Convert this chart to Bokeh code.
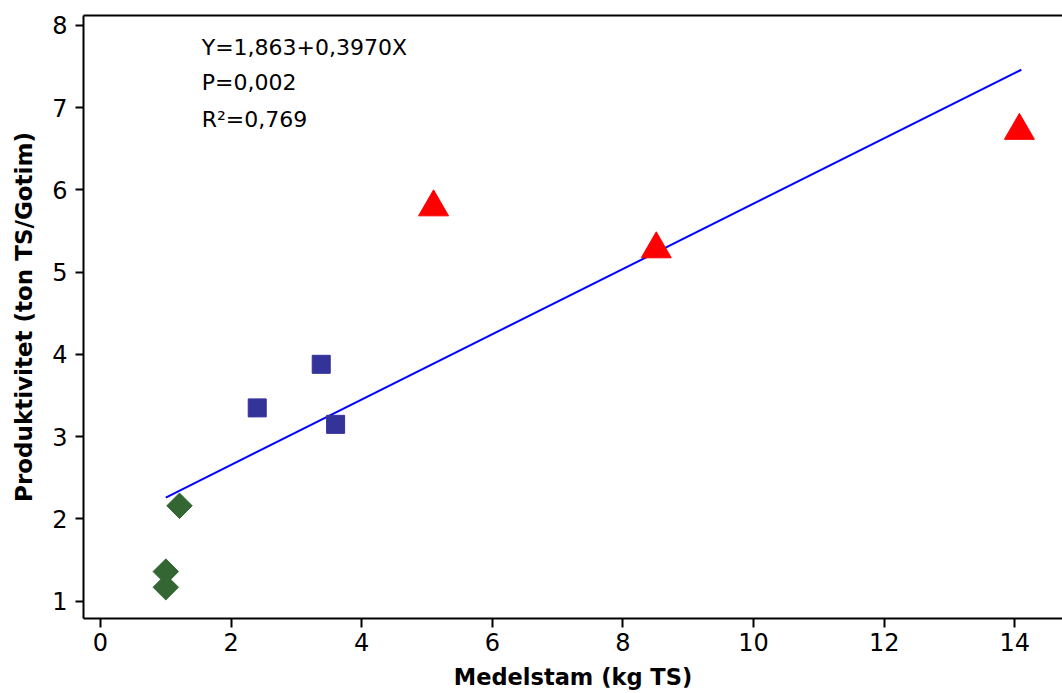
from bokeh.plotting import figure
from bokeh.models import Range1d, LinearAxis, Label, FixedTicker
from bokeh.embed import file_html
from bokeh.resources import INLINE

# ---- data ----
diamond_x = [1.0, 1.0, 1.21]
diamond_y = [1.17, 1.36, 2.16]
square_x = [2.40, 3.38, 3.60]
square_y = [3.35, 3.88, 3.15]
triangle_x = [5.10, 8.51, 14.07]
triangle_y = [5.79, 5.28, 6.72]

intercept = 1.863
slope = 0.3970
fit_x = [1.0, 14.1]
fit_y = [intercept + slope * v for v in fit_x]

annotation_lines = ["Y=1,863+0,3970X", "P=0,002", "R²=0,769"]
annotation_x = 1.55
annotation_y = [7.73, 7.31, 6.86]

x_ticks = [0, 2, 4, 6, 8, 10, 12, 14]
y_ticks = [1, 2, 3, 4, 5, 6, 7, 8]
x_title = "Medelstam (kg TS)"
y_title = "Produktivitet (ton TS/Gotim)"

FONT = "DejaVu Sans"

p = figure(width=1062, height=693,
           x_range=Range1d(-0.26, 14.73), y_range=Range1d(0.79, 8.12),
           output_backend="svg", toolbar_location=None,
           min_border_left=83, min_border_right=0,
           min_border_top=15, min_border_bottom=75)
p.grid.visible = False
p.outline_line_color = None
p.background_fill_color = "white"
p.border_fill_color = "white"

for ax in (p.xaxis[0], p.yaxis[0]):
    ax.axis_line_width = 2
    ax.axis_line_color = "black"
    ax.major_tick_line_width = 2
    ax.major_tick_line_color = "black"
    ax.major_tick_in = 0
    ax.minor_tick_line_color = None
    ax.major_label_text_font = FONT
    ax.major_label_text_font_size = "24px"
    ax.major_label_text_color = "black"
    ax.axis_label_text_font = FONT
    ax.axis_label_text_font_style = "bold"
    ax.axis_label_text_color = "black"

p.xaxis[0].axis_label_text_font_size = "22.5px"
p.yaxis[0].axis_label_text_font_size = "23px"
p.xaxis[0].ticker = FixedTicker(ticks=x_ticks)
p.yaxis[0].ticker = FixedTicker(ticks=y_ticks)
p.xaxis[0].major_tick_out = 9
p.yaxis[0].major_tick_out = 8
p.xaxis[0].major_label_standoff = 5
p.yaxis[0].major_label_standoff = 8
p.xaxis[0].axis_label = x_title
p.yaxis[0].axis_label = y_title
p.xaxis[0].axis_label_standoff = 10
p.yaxis[0].axis_label_standoff = 12

top = LinearAxis(ticker=FixedTicker(ticks=[]),
                 major_tick_line_color=None, minor_tick_line_color=None,
                 axis_line_width=2, axis_line_color="black")
p.add_layout(top, "above")

p.line(fit_x, fit_y, line_color="#0000FF", line_width=2)
p.scatter(diamond_x, diamond_y, marker="square", size=18, angle=0.785398,
          fill_color="#336633", line_color="#336633")
p.scatter(square_x, square_y, marker="square", size=18,
          fill_color="#333399", line_color="#333399")
p.scatter(triangle_x, triangle_y, marker="triangle", size=30,
          fill_color="#FF0000", line_color="#FF0000")

for txt, yy in zip(annotation_lines, annotation_y):
    p.add_layout(Label(x=annotation_x, y=yy, text=txt, text_font=FONT,
                       text_font_size="22px", text_color="black",
                       text_baseline="middle", text_align="left"))

open("out.html", "w").write(file_html(p, INLINE))
